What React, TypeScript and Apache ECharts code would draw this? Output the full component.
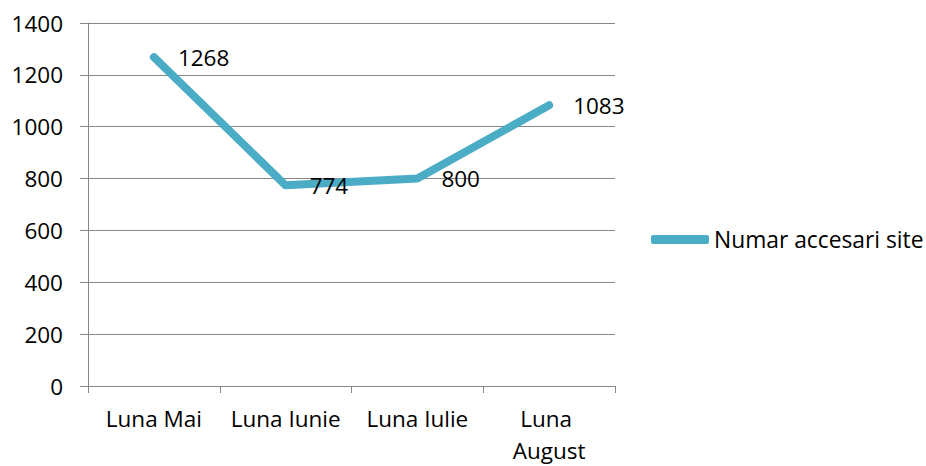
import React, { useEffect, useRef } from "react";
import * as echarts from "echarts";

const categories = ["Luna Mai", "Luna Iunie", "Luna Iulie", "Luna August"];
const seriesName = "Numar accesari site";
const values = [1268, 774, 800, 1083];
const yMin = 0;
const yMax = 1400;
const yInterval = 200;

const FONT = "'Open Sans', sans-serif";
const LINE_COLOR = "#4BACC6";
const GRID_COLOR = "#868686";

export default function App() {
  const ref = useRef<HTMLDivElement>(null);
  useEffect(() => {
    document.body.style.margin = "0";
    const chart = echarts.init(ref.current!, null, { renderer: "svg" });
    chart.setOption({
      animation: false,
      backgroundColor: "#ffffff",
      textStyle: { fontFamily: FONT },
      grid: { left: 88, top: 23, width: 527, height: 366, containLabel: false },
      legend: {
        orient: "vertical",
        left: 651,
        top: 226,
        padding: 0,
        icon: "roundRect",
        itemWidth: 58,
        itemHeight: 9,
        itemStyle: { color: LINE_COLOR, borderWidth: 0 },
        textStyle: { fontFamily: FONT, fontSize: 22.8, color: "#000", lineHeight: 27 },
        data: [seriesName],
      },
      xAxis: {
        type: "category",
        data: categories,
        boundaryGap: true,
        axisLine: { show: true, lineStyle: { color: GRID_COLOR, width: 1 } },
        axisTick: { show: true, length: 7, lineStyle: { color: GRID_COLOR } },
        axisLabel: {
          fontFamily: FONT,
          fontSize: 22.5,
          color: "#000",
          margin: 16,
          lineHeight: 32,
          width: 112,
          overflow: "break",
          interval: 0,
          align: "center",
        },
      },
      yAxis: {
        type: "value",
        min: yMin,
        max: yMax,
        interval: yInterval,
        axisLine: { show: true, lineStyle: { color: GRID_COLOR, width: 1 } },
        axisTick: { show: true, length: 8, lineStyle: { color: GRID_COLOR } },
        splitLine: { show: true, lineStyle: { color: GRID_COLOR, width: 1 } },
        axisLabel: {
          fontFamily: FONT,
          fontSize: 22.5,
          color: "#000",
          margin: 25,
          formatter: (v: number) => String(v),
        },
      },
      series: [
        {
          name: seriesName,
          type: "line",
          data: values,
          symbol: "circle",
          symbolSize: 2,
          showSymbol: true,
          itemStyle: { color: "rgba(0,0,0,0)", borderWidth: 0 },
          lineStyle: { color: LINE_COLOR, width: 8, cap: "round", join: "round" },
          label: {
            show: true,
            position: "right",
            distance: 23,
            fontFamily: FONT,
            fontSize: 22.5,
            color: "#000",
          },
          emphasis: { disabled: true },
        },
      ],
    });
    return () => chart.dispose();
  }, []);
  return <div ref={ref} style={{ width: 926, height: 466 }} />;
}
